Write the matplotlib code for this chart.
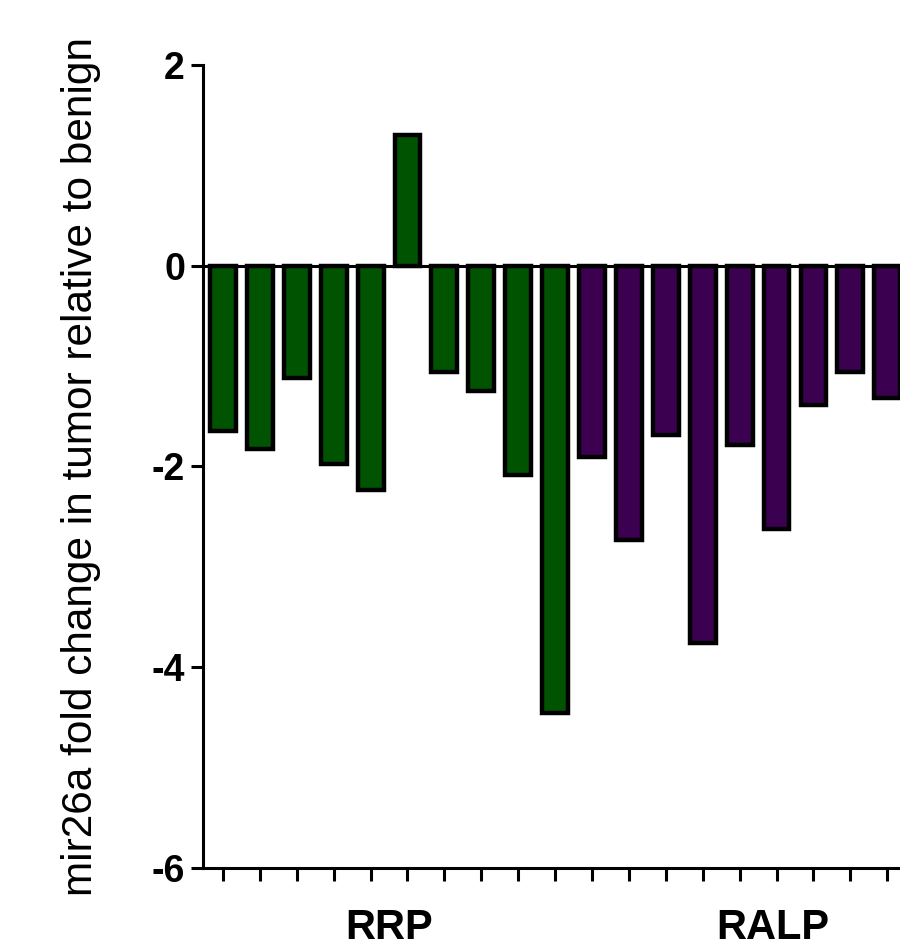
import matplotlib
matplotlib.use("Agg")
import matplotlib.pyplot as plt
import numpy as np

# fold change per patient
rrp_vals = [-1.65, -1.83, -1.12, -1.98, -2.23, 1.30, -1.06, -1.25, -2.08, -4.46]
ralp_vals = [-1.91, -2.73, -1.69, -3.76, -1.79, -2.62, -1.39, -1.06, -1.32]
group_labels = ["RRP", "RALP"]
green = "#005300"
purple = "#3c0050"

plt.rcParams['font.family'] = ['Liberation Sans', 'DejaVu Sans']
plt.rcParams['axes.unicode_minus'] = False

fig = plt.figure(figsize=(9, 9.5), dpi=100)
ax = fig.add_axes([0.2256, 0.0863, 0.80, 0.8453])

vals = rrp_vals + ralp_vals
x = np.arange(len(vals))
colors = [green] * len(rrp_vals) + [purple] * len(ralp_vals)
ax.bar(x, vals, width=0.70, color=colors, edgecolor="black", linewidth=3.2, zorder=2)
ax.axhline(0, color="black", lw=2.2, zorder=3)

ax.set_ylim(-6, 2)
ax.set_xlim(-0.54, 18.97)
ax.set_yticks([-6, -4, -2, 0, 2])
ax.set_xticks(x)
ax.set_xticklabels([])
for s in ["top", "right"]:
    ax.spines[s].set_visible(False)
for s in ["left", "bottom"]:
    ax.spines[s].set_linewidth(2.2)
ax.tick_params(axis="both", direction="out", length=9, width=2.2, color="black")
ax.tick_params(axis="y", labelsize=27, pad=4)
for lab in ax.get_yticklabels():
    lab.set_fontweight("bold")

ax.set_ylabel("mir26a fold change in tumor relative to benign", fontsize=30.5)
ax.yaxis.set_label_coords(-0.142, 0.5)

# group labels under the ticks (RALP group runs past the right edge)
ax.text(4.5, -6.71, group_labels[0], ha="center", va="baseline",
        fontsize=30, fontweight="bold", clip_on=False)
ax.text(14.9, -6.71, group_labels[1], ha="center", va="baseline",
        fontsize=30, fontweight="bold", clip_on=False)

fig.savefig("out.png", dpi=100)
